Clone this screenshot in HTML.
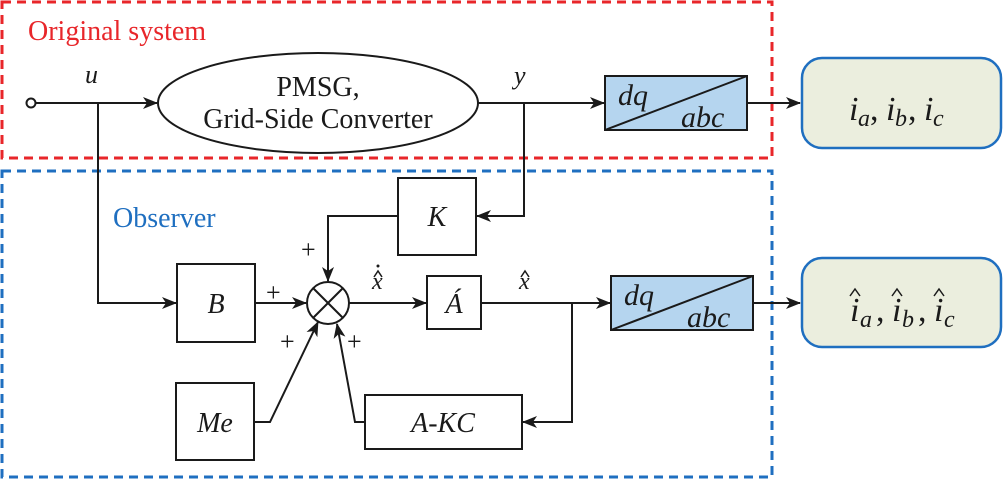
<!DOCTYPE html>
<html><head><meta charset="utf-8"><style>
html,body{margin:0;padding:0;background:#fff;}
svg{display:block;}
text{font-family:"Liberation Serif",serif;fill:#1a1a1a;}
</style></head><body>
<svg width="1003" height="480" viewBox="0 0 1003 480" xmlns="http://www.w3.org/2000/svg">
<defs>
<marker id="a" markerWidth="15" markerHeight="12" refX="14" refY="6" orient="auto" markerUnits="userSpaceOnUse">
<path d="M0,0 L15,6 L0,12 L4,6 Z" fill="#1a1a1a"/></marker>
</defs>
<rect x="2" y="2" width="770" height="156" fill="none" stroke="#e8262a" stroke-width="3" stroke-dasharray="9,6"/>
<rect x="2" y="171" width="770" height="306" fill="none" stroke="#1f6fc0" stroke-width="3" stroke-dasharray="9,6"/>
<text x="28" y="40" font-size="28" style="fill:#e8262a">Original system</text>
<text x="113" y="227" font-size="28" style="fill:#1f6fc0">Observer</text>

<g stroke="#1a1a1a" stroke-width="2" fill="none">
<circle cx="31" cy="103" r="4.5" fill="#fff"/>
<line x1="36" y1="103" x2="157" y2="103" marker-end="url(#a)"/>
<ellipse cx="318" cy="103" rx="160" ry="50" fill="#fff"/>
<line x1="478" y1="103" x2="604" y2="103" marker-end="url(#a)"/>
<polyline points="524,103 524,216 477,216" marker-end="url(#a)"/>
<line x1="747" y1="103" x2="800" y2="103" marker-end="url(#a)"/>
<polyline points="98,103 98,303 176,303" marker-end="url(#a)"/>
<rect x="177" y="264" width="78" height="78"/>
<line x1="255" y1="303" x2="306" y2="303" marker-end="url(#a)"/>
<rect x="398" y="178" width="78" height="77"/>
<polyline points="398,216 328,216 328,281" marker-end="url(#a)"/>
<circle cx="328" cy="303" r="21"/>
<line x1="313" y1="288" x2="343" y2="318"/>
<line x1="343" y1="288" x2="313" y2="318"/>
<line x1="349" y1="303" x2="426" y2="303" marker-end="url(#a)"/>
<rect x="427" y="276" width="54" height="53"/>
<line x1="481" y1="303" x2="610" y2="303" marker-end="url(#a)"/>
<polyline points="572,303 572,422 523,422" marker-end="url(#a)"/>
<rect x="365" y="395" width="157" height="54"/>
<polyline points="365,422 355,422 337,324" marker-end="url(#a)"/>
<rect x="176" y="383" width="78" height="77"/>
<polyline points="254,422 270,422 318,322" marker-end="url(#a)"/>
<line x1="753" y1="303" x2="800" y2="303" marker-end="url(#a)"/>
</g>
<rect x="605" y="76" width="142" height="54" fill="#b5d5ef" stroke="#1a1a1a" stroke-width="2"/>
<line x1="605" y1="130" x2="747" y2="76" stroke="#1a1a1a" stroke-width="2"/>
<text x="618" y="105" font-size="30" font-style="italic">dq</text>
<text x="681" y="127" font-size="30" font-style="italic">abc</text>
<rect x="611" y="276" width="142" height="54" fill="#b5d5ef" stroke="#1a1a1a" stroke-width="2"/>
<line x1="611" y1="330" x2="753" y2="276" stroke="#1a1a1a" stroke-width="2"/>
<text x="624" y="305" font-size="30" font-style="italic">dq</text>
<text x="687" y="327" font-size="30" font-style="italic">abc</text>
<rect x="802" y="58" width="199" height="90" rx="20" fill="#ebeede" stroke="#1f6fc0" stroke-width="2.5"/>
<rect x="802" y="258" width="199" height="89" rx="20" fill="#ebeede" stroke="#1f6fc0" stroke-width="2.5"/>
<g font-size="34" font-style="italic">
<text x="849" y="120">i</text><text x="858" y="126" font-size="24">a</text><text x="870" y="120" font-style="normal">,</text>
<text x="886" y="120">i</text><text x="895" y="126" font-size="24">b</text><text x="908" y="120" font-style="normal">,</text>
<text x="924" y="120">i</text><text x="933" y="126" font-size="24">c</text>
<text x="850" y="321">i</text><text x="860" y="327" font-size="24">a</text><text x="876" y="321" font-style="normal">,</text>
<text x="892" y="321">i</text><text x="902" y="327" font-size="24">b</text><text x="918" y="321" font-style="normal">,</text>
<text x="934" y="321">i</text><text x="944" y="327" font-size="24">c</text>
</g>
<g stroke="#1a1a1a" stroke-width="1.5" fill="none">
<polyline points="850,296 855,289 860,296"/>
<polyline points="892,296 897,289 902,296"/>
<polyline points="934,296 939,289 944,296"/>
<polyline points="374,277 378,271 382,277"/>
<polyline points="521,277 525,271 529,277"/>
</g>
<circle cx="378" cy="266" r="1.5" fill="#1a1a1a"/>
<text x="318" y="96" font-size="28" text-anchor="middle">PMSG,</text>
<text x="318" y="128" font-size="28" text-anchor="middle">Grid-Side Converter</text>
<text x="85" y="83" font-size="26" font-style="italic">u</text>
<text x="514" y="84" font-size="26" font-style="italic">y</text>
<text x="437" y="226" font-size="28" font-style="italic" text-anchor="middle">K</text>
<text x="216" y="313" font-size="28" font-style="italic" text-anchor="middle">B</text>
<text x="215" y="432" font-size="28" font-style="italic" text-anchor="middle">Me</text>
<text x="454" y="313" font-size="28" font-style="italic" text-anchor="middle">Á</text>
<text x="443" y="432" font-size="28" font-style="italic" text-anchor="middle">A-KC</text>
<text x="372" y="289" font-size="24" font-style="italic">x</text>
<text x="519" y="289" font-size="24" font-style="italic">x</text>
<g font-size="26"><text x="301" y="258">+</text><text x="266" y="301">+</text><text x="280" y="350">+</text><text x="347" y="350">+</text></g>
</svg>
</body></html>
